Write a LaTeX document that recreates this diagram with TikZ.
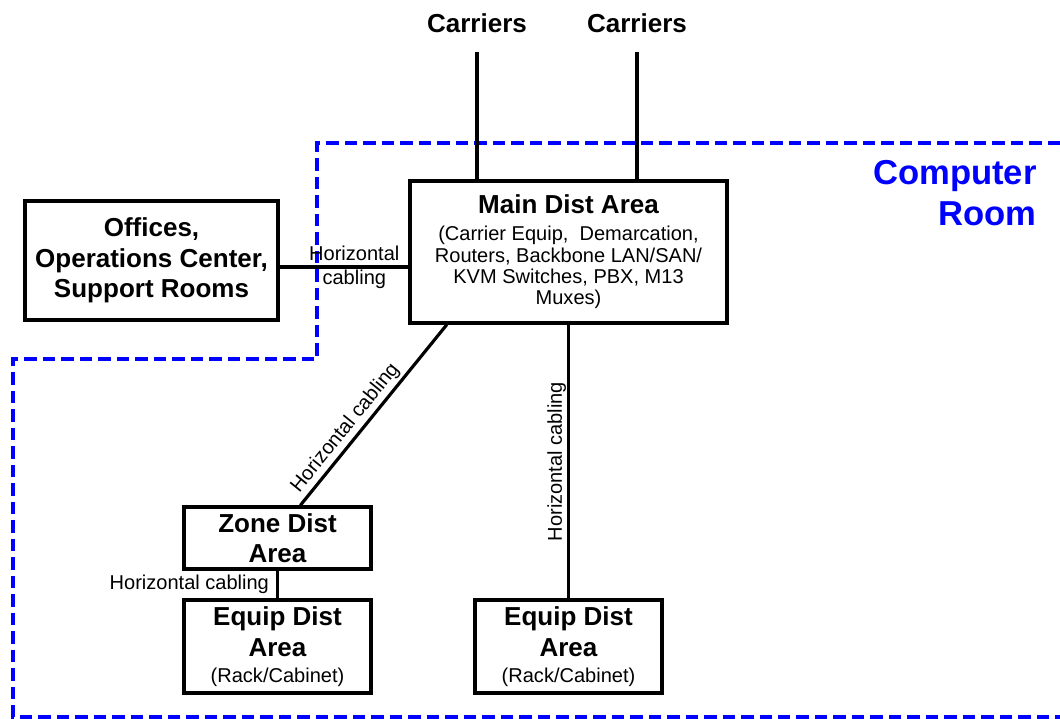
\documentclass[tikz,border=0pt]{standalone}
\usepackage{fontspec}
\setmainfont{Liberation Sans}
\usetikzlibrary{calc}
\definecolor{roomblue}{RGB}{0, 0, 255}
\newcommand{\areafont}{\fontsize{14.8}{17.4}\selectfont\bfseries}
\newcommand{\notefont}{\fontsize{11.4}{12.2}\selectfont\mdseries}
\newcommand{\cabfont}{\fontsize{11.4}{13.6}\selectfont\mdseries}
\newcommand{\roomfont}{\fontsize{19.7}{23.8}\selectfont\bfseries}
\tikzset{
  area/.style={
    draw, line width=1.9pt,
    align=center, inner sep=0pt,
    font=\areafont
  },
  mainarea/.style={area, font=\notefont},
  carrier/.style={font=\areafont, inner sep=0pt},
  link/.style={line width=1.8pt, black},
  cablelbl/.style={font=\cabfont, inner sep=1.5pt},
  roomline/.style={roomblue, line width=2pt, dash pattern=on 0.25cm off 0.12cm}
}

\begin{document}
\begin{tikzpicture}[x=0.02cm, y=-0.02cm]
\useasboundingbox (0,0) rectangle (1060,719);

% Computer room outline (dashed, open on the right)
\draw[roomline] (1060,143) -- (317,143) -- (317,359) -- (13,359) -- (13,717) -- (1060,717);
\node[font=\roomfont, text=roomblue, align=right, anchor=east, inner sep=0pt] (room) at (1037,193) {Computer\\Room};

% Areas
\node[mainarea, minimum width=6.34cm, minimum height=2.84cm] (mda) at (568.5,252)
  {{\areafont Main Dist Area}\\[3.1pt]
   (Carrier Equip,~ Demarcation,\\
   Routers, Backbone LAN/SAN/\\
   KVM Switches, PBX, M13\\
   Muxes)};
\node[area, minimum width=5.06cm, minimum height=2.38cm] (off) at (151.5,260.5)
  {Offices,\\Operations Center,\\Support Rooms};
\node[area, minimum width=3.74cm, minimum height=1.24cm] (zda) at (277.5,538)
  {Zone Dist\\Area};
\node[area, minimum width=3.74cm, minimum height=1.86cm] (eda1) at (277.5,646.5)
  {Equip Dist\\Area\\[-2.7pt]{\notefont (Rack/Cabinet)}};
\node[area, minimum width=3.74cm, minimum height=1.86cm] (eda2) at (568.5,646.5)
  {Equip Dist\\Area\\[-2.7pt]{\notefont (Rack/Cabinet)}};

% Carriers
\node[carrier] (carA) at (477,23) {Carriers};
\node[carrier] (carB) at (637,23) {Carriers};
\draw[link, shorten <=0.39cm] (carA.south) -- (carA.south |- mda.north);
\draw[link, shorten <=0.39cm] (carB.south) -- (carB.south |- mda.north);

% Horizontal cabling
\draw[link] (off.east |- {0,267}) -- (mda.west |- {0,267})
  node[pos=0.58, font=\cabfont, align=center, inner sep=0pt] (cabOff) {Horizontal\\cabling};
\draw[link] ($(mda.south west)!0.12!(mda.south east)$) -- ($(zda.north west)!0.62!(zda.north east)$)
  node[pos=0.62, sloped, above, cablelbl] (cabZone) {Horizontal cabling};
\draw[link] (mda.south) -- (eda2.north)
  node[midway, rotate=90, anchor=south, cablelbl, inner sep=0.5pt] (cabEq2) {Horizontal cabling};
\draw[link] (zda.south) -- (eda1.north)
  node[midway, left, cablelbl, inner sep=4pt] (cabEq1) {Horizontal cabling};

\end{tikzpicture}
\end{document}
